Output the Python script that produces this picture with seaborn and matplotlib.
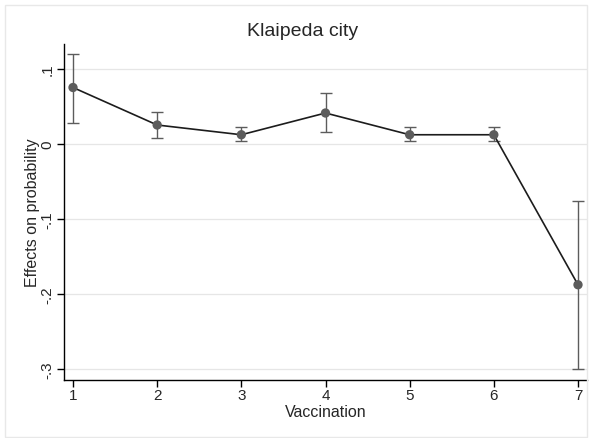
import numpy as np
import pandas as pd
import seaborn as sns
import matplotlib.pyplot as plt
from matplotlib.patches import Rectangle

# ---------- data ----------
vaccination = [1, 2, 3, 4, 5, 6, 7]
effect = [0.075, 0.025, 0.012, 0.041, 0.012, 0.012, -0.188]
ci_low = [0.028, 0.008, 0.004, 0.016, 0.004, 0.004, -0.300]
ci_high = [0.120, 0.043, 0.023, 0.068, 0.023, 0.023, -0.076]
yticks = [0.1, 0.0, -0.1, -0.2, -0.3]
ytick_labels = [".1", "0", "-.1", "-.2", "-.3"]

df = pd.DataFrame({"Vaccination": vaccination, "effect": effect,
                   "lo": ci_low, "hi": ci_high})

sns.set_style("white")
plt.rcParams["font.family"] = ["Liberation Sans", "DejaVu Sans"]

fig = plt.figure(figsize=(5.91, 4.39), dpi=100)
ax = fig.add_axes([64 / 591, 1 - 381 / 439, (587 - 64) / 591, (381 - 45) / 439])

# outer graph-region frame
fig.patches.append(Rectangle((5 / 591, 1 / 439), 582 / 591, 432 / 439,
                             transform=fig.transFigure, fill=False,
                             edgecolor="#e8e8e8", linewidth=1.0))

for t in yticks:
    ax.axhline(t, color="#e6e6e6", linewidth=0.9, zorder=0)

ax.errorbar(df["Vaccination"], df["effect"],
            yerr=[df["effect"] - df["lo"], df["hi"] - df["effect"]],
            fmt="none", ecolor="#5c5c5c", elinewidth=1.0, capsize=4,
            capthick=1.0, zorder=2)
sns.lineplot(data=df, x="Vaccination", y="effect", color="#1c1c1c",
             linewidth=1.2, ax=ax, zorder=3)
sns.scatterplot(data=df, x="Vaccination", y="effect", color="#5c5c5c",
                s=45, edgecolor="none", ax=ax, zorder=4)

ax.set_xlim(0.893, 7.107)
ax.set_ylim(-0.315, 0.133)
ax.set_xticks(vaccination)
ax.set_yticks(yticks)
ax.set_yticklabels(ytick_labels, rotation=90, va="center")
ax.tick_params(axis="both", bottom=True, left=True, length=5, width=1,
               color="black", labelsize=11, direction="out")
ax.tick_params(axis="x", pad=1)
ax.tick_params(axis="y", pad=2)

for s in ["top", "right"]:
    ax.spines[s].set_visible(False)
for s in ["left", "bottom"]:
    ax.spines[s].set_color("black")
    ax.spines[s].set_linewidth(1.0)

ax.set_xlabel("Vaccination", fontsize=11.5, labelpad=1)
ax.set_ylabel("Effects on probability", fontsize=11.5, labelpad=0)
fig.text(303 / 591, 1 - 31 / 439, "Klaipeda city",
         ha="center", va="center", fontsize=14)

fig.savefig("out.png", dpi=100, facecolor="white")
